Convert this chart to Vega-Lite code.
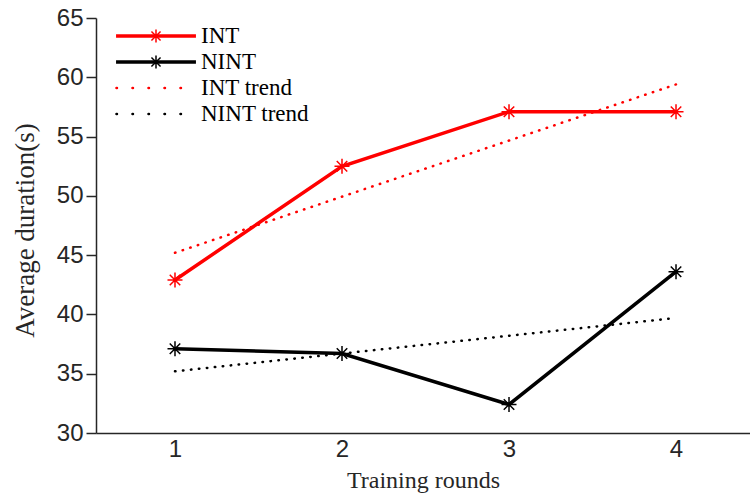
{
  "$schema": "https://vega.github.io/schema/vega-lite/v6.json",
  "width": 654,
  "height": 415,
  "autosize": "none",
  "padding": {"left": 96, "top": 18, "right": 0, "bottom": 60},
  "background": "white",
  "config": {
    "view": {"stroke": null},
    "axis": {"grid": false}
  },
  "data": {
    "values": [
      {"series": "INT", "round": 1, "value": 42.9},
      {"series": "INT", "round": 2, "value": 52.5},
      {"series": "INT", "round": 3, "value": 57.1},
      {"series": "INT", "round": 4, "value": 57.1},
      {"series": "NINT", "round": 1, "value": 37.1},
      {"series": "NINT", "round": 2, "value": 36.7},
      {"series": "NINT", "round": 3, "value": 32.4},
      {"series": "NINT", "round": 4, "value": 43.6},
      {"series": "INT trend", "round": 1, "value": 45.2},
      {"series": "INT trend", "round": 4, "value": 59.4},
      {"series": "NINT trend", "round": 1, "value": 35.2},
      {"series": "NINT trend", "round": 4, "value": 39.7}
    ]
  },
  "encoding": {
    "x": {
      "field": "round",
      "type": "quantitative",
      "scale": {"domain": [0.527, 4.443], "nice": false, "zero": false},
      "axis": {
        "values": [1, 2, 3, 4],
        "format": "d",
        "ticks": false,
        "domainColor": "#262626",
        "domainWidth": 1.5,
        "labelFont": "Liberation Sans",
        "labelFontSize": 24,
        "labelColor": "#262626",
        "labelPadding": 4,
        "title": "Training rounds",
        "titleFont": "Liberation Serif",
        "titleFontSize": 24,
        "titleFontWeight": "normal",
        "titleColor": "#262626",
        "titlePadding": 7
      }
    },
    "y": {
      "field": "value",
      "type": "quantitative",
      "scale": {"domain": [30, 65], "nice": false, "zero": false},
      "axis": {
        "values": [30, 35, 40, 45, 50, 55, 60, 65],
        "format": "d",
        "tickSize": 10,
        "tickWidth": 1.5,
        "tickColor": "#262626",
        "domainColor": "#262626",
        "domainWidth": 1.5,
        "labelFont": "Liberation Sans",
        "labelFontSize": 24,
        "labelColor": "#262626",
        "labelPadding": 3,
        "title": "Average duration(s)",
        "titleFont": "Liberation Serif",
        "titleFontSize": 27,
        "titleFontWeight": "normal",
        "titleColor": "#262626",
        "titleX": -57,
        "titleY": 212,
        "titleAlign": "center"
      }
    },
    "color": {
      "field": "series",
      "type": "nominal",
      "scale": {
        "domain": ["INT", "NINT", "INT trend", "NINT trend"],
        "range": ["#ff0000", "#000000", "#ff0000", "#000000"]
      },
      "legend": {
        "title": null,
        "orient": "none",
        "legendX": 48.5,
        "legendY": 6.5,
        "padding": 0,
        "symbolType": "M-4.7,0H4.7",
        "symbolSize": 289,
        "symbolStrokeWidth": 3.5,
        "symbolOpacity": 1,
        "labelFont": "Liberation Serif",
        "labelFontSize": 23,
        "labelColor": "#000000",
        "labelOffset": 33.5,
        "rowPadding": 2,
        "encode": {
          "symbols": {
            "update": {
              "shape": {"signal": "(datum.value === 'INT' || datum.value === 'NINT') ? 'M-4.7,0H4.7' : 'M-4.65,0H3.06'"},
              "strokeDash": {"signal": "(datum.value === 'INT' || datum.value === 'NINT') ? [1, 0] : [0.5, 15.5]"},
              "strokeCap": {"signal": "(datum.value === 'INT' || datum.value === 'NINT') ? 'butt' : 'round'"},
              "strokeWidth": {"signal": "(datum.value === 'INT' || datum.value === 'NINT') ? 3.5 : 2.5"},
              "fill": {"value": "transparent"}
            }
          }
        }
      }
    }
  },
  "layer": [
    {
      "transform": [{"filter": "datum.series === 'INT trend' || datum.series === 'NINT trend'"}],
      "mark": {"type": "line", "strokeWidth": 2.5, "strokeDash": [0.5, 7.5], "strokeCap": "round"},
      "encoding": {}
    },
    {
      "transform": [{"filter": "datum.series === 'INT' || datum.series === 'NINT'"}],
      "mark": {"type": "line", "strokeWidth": 3.5},
      "encoding": {}
    },
    {
      "transform": [{"filter": "datum.series === 'INT' || datum.series === 'NINT'"}],
      "mark": {
        "type": "point",
        "filled": false,
        "size": 225,
        "strokeWidth": 1.5,
        "opacity": 1,
        "shape": "M-1,0H1M0,-1V1M-0.7,-0.7L0.7,0.7M-0.7,0.7L0.7,-0.7"
      },
      "encoding": {
        "stroke": {
          "field": "series",
          "type": "nominal",
          "scale": {
            "domain": ["INT", "NINT"],
            "range": ["#ff0000", "#000000"]
          },
          "legend": {
            "title": null,
            "orient": "none",
            "legendX": 48.5,
            "legendY": 6.5,
            "padding": 0,
            "symbolType": "M-1,0H1M0,-1V1M-0.7,-0.7L0.7,0.7M-0.7,0.7L0.7,-0.7",
            "symbolSize": 169,
            "symbolStrokeWidth": 1.5,
            "symbolOpacity": 1,
            "symbolFillColor": "transparent",
            "labelFont": "Liberation Serif",
            "labelFontSize": 23,
            "labelExpr": "' '",
            "labelOffset": 33.5,
            "rowPadding": 2
          }
        }
      }
    }
  ]
}
